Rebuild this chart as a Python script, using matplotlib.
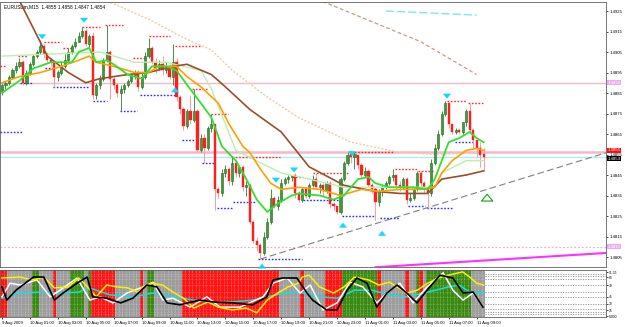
import numpy as np
import matplotlib.pyplot as plt
from matplotlib.transforms import blended_transform_factory

plt.rcParams['font.family'] = ['Liberation Sans', 'DejaVu Sans']

# ---- candles, EURUSDm M15 (bar 0 = 9 Aug 2009 23:00) ----
first_open = 1.4886
closes = [1.4889, 1.4890, 1.4893, 1.4896, 1.4898, 1.4900, 1.4890, 1.4895, 1.4899, 1.4903,
          1.4905, 1.4908, 1.4904, 1.4901, 1.4900, 1.4893, 1.4895, 1.4898, 1.4901, 1.4905,
          1.4908, 1.4910, 1.4913, 1.4915, 1.4909, 1.4913, 1.4884, 1.4889, 1.4892, 1.4901,
          1.4905, 1.4892, 1.4889, 1.4885, 1.4887, 1.4889, 1.4891, 1.4894, 1.4895, 1.4888,
          1.4893, 1.4903, 1.4907, 1.4900, 1.4897, 1.4899, 1.4896, 1.4898, 1.4893, 1.4900,
          1.4883, 1.4877, 1.4869, 1.4876, 1.4872, 1.4876, 1.4857, 1.4863, 1.4858, 1.4868,
          1.4870, 1.4838, 1.4836, 1.4846, 1.4848, 1.4842, 1.4851, 1.4846, 1.4849, 1.4839,
          1.4840, 1.4822, 1.4813, 1.4811, 1.4807, 1.4815, 1.4822, 1.4834, 1.4830, 1.4833,
          1.4841, 1.4843, 1.4844, 1.4845, 1.4836, 1.4833, 1.4838, 1.4835, 1.4840, 1.4843,
          1.4839, 1.4840, 1.4837, 1.4841, 1.4831, 1.4830, 1.4827, 1.4843, 1.4851, 1.4855,
          1.4854, 1.4855, 1.4850, 1.4845, 1.4847, 1.4840, 1.4838, 1.4832, 1.4837, 1.4839,
          1.4841, 1.4844, 1.4845, 1.4840, 1.4839, 1.4843, 1.4833, 1.4834, 1.4838, 1.4846,
          1.4841, 1.4838, 1.4836, 1.4851, 1.4858, 1.4865, 1.4875, 1.4880, 1.4870, 1.4866,
          1.4867, 1.4866, 1.4871, 1.4876, 1.4867, 1.4862, 1.4858, 1.4855, 1.4854]
highs = [1.4890, 1.4891, 1.4894, 1.4897, 1.4900, 1.4902, 1.4901, 1.4896, 1.4900, 1.4904,
         1.4906, 1.4911, 1.4909, 1.4905, 1.4902, 1.4901, 1.4896, 1.4900, 1.4904, 1.4907,
         1.4909, 1.4912, 1.4915, 1.4917, 1.4916, 1.4914, 1.4915, 1.4890, 1.4894, 1.4902,
         1.4918, 1.4906, 1.4893, 1.4890, 1.4889, 1.4890, 1.4892, 1.4895, 1.4896, 1.4896,
         1.4895, 1.4905, 1.4912, 1.4908, 1.4902, 1.4901, 1.4903, 1.4900, 1.4899, 1.4909,
         1.4902, 1.4884, 1.4878, 1.4877, 1.4884, 1.4887, 1.4877, 1.4865, 1.4865, 1.4869,
         1.4875, 1.4870, 1.4839, 1.4848, 1.4850, 1.4849, 1.4854, 1.4852, 1.4850, 1.4850,
         1.4842, 1.4841, 1.4823, 1.4815, 1.4812, 1.4817, 1.4824, 1.4838, 1.4835, 1.4835,
         1.4843, 1.4844, 1.4845, 1.4845, 1.4846, 1.4837, 1.4839, 1.4839, 1.4841, 1.4845,
         1.4846, 1.4841, 1.4841, 1.4842, 1.4842, 1.4832, 1.4830, 1.4844, 1.4852, 1.4856,
         1.4856, 1.4856, 1.4855, 1.4851, 1.4849, 1.4848, 1.4841, 1.4839, 1.4838, 1.4840,
         1.4842, 1.4845, 1.4848, 1.4845, 1.4842, 1.4844, 1.4844, 1.4836, 1.4839, 1.4847,
         1.4847, 1.4842, 1.4839, 1.4853, 1.4860, 1.4867, 1.4876, 1.4881, 1.4880, 1.4870,
         1.4868, 1.4868, 1.4871, 1.4877, 1.4880, 1.4868, 1.4862, 1.4861, 1.4858]
lows = [1.4884, 1.4887, 1.4889, 1.4892, 1.4895, 1.4897, 1.4889, 1.4889, 1.4894, 1.4898,
        1.4902, 1.4904, 1.4902, 1.4900, 1.4898, 1.4888, 1.4891, 1.4894, 1.4897, 1.4900,
        1.4904, 1.4907, 1.4910, 1.4912, 1.4908, 1.4907, 1.4882, 1.4882, 1.4887, 1.4891,
        1.4900, 1.4882, 1.4887, 1.4883, 1.4876, 1.4885, 1.4888, 1.4890, 1.4892, 1.4886,
        1.4887, 1.4892, 1.4902, 1.4899, 1.4895, 1.4896, 1.4894, 1.4895, 1.4892, 1.4889,
        1.4881, 1.4875, 1.4867, 1.4868, 1.4870, 1.4871, 1.4856, 1.4856, 1.4851, 1.4857,
        1.4866, 1.4828, 1.4834, 1.4835, 1.4844, 1.4840, 1.4840, 1.4844, 1.4844, 1.4837,
        1.4835, 1.4821, 1.4812, 1.4808, 1.4804, 1.4806, 1.4814, 1.4821, 1.4829, 1.4828,
        1.4832, 1.4840, 1.4841, 1.4842, 1.4834, 1.4832, 1.4832, 1.4834, 1.4834, 1.4839,
        1.4838, 1.4836, 1.4835, 1.4836, 1.4829, 1.4828, 1.4826, 1.4826, 1.4842, 1.4850,
        1.4851, 1.4848, 1.4848, 1.4843, 1.4844, 1.4839, 1.4836, 1.4823, 1.4830, 1.4835,
        1.4838, 1.4840, 1.4842, 1.4838, 1.4837, 1.4838, 1.4831, 1.4832, 1.4833, 1.4837,
        1.4839, 1.4836, 1.4829, 1.4835, 1.4850, 1.4857, 1.4864, 1.4874, 1.4868, 1.4865,
        1.4865, 1.4865, 1.4865, 1.4869, 1.4866, 1.4858, 1.4854, 1.4849, 1.4847]

# ---- moving averages (bar, price) ----
ma_fast_bar = [0, 5, 9, 14, 17, 20, 22, 25, 27, 30, 32, 36, 40, 43, 47, 50, 53, 57, 60, 63,
               67, 70, 73, 76, 79, 82, 83, 85, 91, 95, 98, 102, 105, 107, 111, 118, 122, 124,
               126, 128, 131, 134, 136, 138]
ma_fast = [1.4885, 1.4891, 1.4897, 1.4900, 1.4900, 1.4900, 1.4905, 1.4907, 1.4900, 1.4901,
           1.4899, 1.4894, 1.4892, 1.4898, 1.4898, 1.4896, 1.4889, 1.4880, 1.4873, 1.4859,
           1.4852, 1.4843, 1.4833, 1.4827, 1.4831, 1.4834, 1.4835, 1.4836, 1.4835, 1.4833,
           1.4835, 1.4843, 1.4844, 1.4841, 1.4839, 1.4839, 1.4838, 1.4843, 1.4852, 1.4861,
           1.4863, 1.4866, 1.4863, 1.4861]
ma_mid_bar = [0, 5, 11, 17, 22, 25, 27, 32, 38, 42, 45, 50, 53, 57, 62, 65, 69, 71, 74, 77,
              80, 85, 91, 97, 103, 108, 114, 120, 124, 126, 129, 133, 136, 138]
ma_mid = [1.4890, 1.4893, 1.4895, 1.4898, 1.4901, 1.4903, 1.4900, 1.4898, 1.4895, 1.4895,
          1.4898, 1.4898, 1.4893, 1.4888, 1.4880, 1.4870, 1.4859, 1.4856, 1.4848, 1.4841,
          1.4838, 1.4839, 1.4838, 1.4835, 1.4838, 1.4837, 1.4838, 1.4838, 1.4839, 1.4846,
          1.4852, 1.4857, 1.4858, 1.4857]
ma_soft_bar = [0, 28, 38, 47, 57, 60, 67, 74, 80, 88, 98, 114, 124, 126, 133, 138]
ma_soft = [1.4903, 1.4905, 1.4900, 1.4900, 1.4896, 1.4887, 1.4857, 1.4851, 1.4846, 1.4843,
           1.4839, 1.4839, 1.4839, 1.4846, 1.4852, 1.4852]
ma_slow_bar = [4, 5, 13, 19, 24, 28, 36, 42, 49, 53, 60, 64, 71, 80, 88, 98, 107, 114, 122,
               126, 133, 138]
ma_slow = [1.4934, 1.4930, 1.4903, 1.4895, 1.4890, 1.4892, 1.4894, 1.4895, 1.4898, 1.4899,
           1.4894, 1.4888, 1.4877, 1.4866, 1.4849, 1.4840, 1.4837, 1.4836, 1.4836, 1.4843,
           1.4845, 1.4847]
ma_long_bar = [28, 30, 42, 52, 60, 66, 76, 85, 100, 114, 124, 138]
ma_long = [1.4932, 1.4930, 1.4921, 1.4912, 1.4906, 1.4896, 1.4883, 1.4873, 1.4861, 1.4856,
           1.4855, 1.4856]
htf_cyan_bar = [110, 136]
htf_cyan = [1.4925, 1.4923]
htf_brown_bar = [90, 120, 136]
htf_brown = [1.4931, 1.4910, 1.4894]

# ---- levels and lines ----
level_top = 1.4890
level_ask = 1.4856
level_bid = 1.4854
level_low = 1.4810
trend_bar = [74, 173.4]
trend_price = [1.4804, 1.4856]
magenta_bar = [107, 173.4]
magenta_price = [1.4800, 1.4807]

# fractal resistance (red) / support (blue) segments: start bar, end bar, price
res_segments = [(-0.5, 1, 1.4898), (4.6, 7.4, 1.4903), (12, 17, 1.4910), (17.5, 20, 1.4907),
                (23, 28, 1.4917), (29.5, 34.7, 1.4918), (37.5, 41, 1.4902), (42, 48, 1.4913),
                (49.5, 56.7, 1.4908), (54.5, 59, 1.4887), (60, 64.8, 1.4875), (66, 79.7, 1.4854),
                (83, 86.3, 1.4844), (89, 99, 1.4846), (100, 112, 1.4856), (112.6, 119, 1.4848),
                (119.2, 123.5, 1.4847), (127.5, 133.2, 1.4881), (133.5, 138, 1.4880)]
sup_segments = [(-0.5, 6, 1.4866), (5.2, 8.6, 1.4890), (12.3, 14.6, 1.4897), (14.6, 24.6, 1.4888),
                (26, 30, 1.4881), (33.8, 38.7, 1.4876), (39.5, 50, 1.4884), (51.6, 55.3, 1.4862),
                (57.3, 61, 1.4851), (61.6, 65.9, 1.4829), (66.2, 72.5, 1.4832), (73.4, 86, 1.4804),
                (86.2, 96.8, 1.4833), (97.4, 106.9, 1.4825), (108.3, 114, 1.4824),
                (116.3, 121.2, 1.4830), (121.8, 129.2, 1.4829), (129.8, 135.5, 1.4861)]
down_arrow_bar = [11.5, 23.5, 78.5, 83.7, 100.3, 127.5]
down_arrow_tip = [1.4910, 1.4918, 1.4840, 1.4845, 1.4853, 1.4881]
up_arrow_bar = [49.6, 74.5, 97.7, 108.9]
up_arrow_tip = [1.4889, 1.4803, 1.4823, 1.4819]
signal_bar = 139
signal_tip = 1.4837

price_ticks = [1.4925, 1.4915, 1.4905, 1.4895, 1.4885, 1.4875, 1.4865, 1.4855,
               1.4845, 1.4835, 1.4825, 1.4815, 1.4805]
time_labels = ['9 Aug 2009', '10 Aug 01:00', '10 Aug 03:00', '10 Aug 05:00', '10 Aug 07:00',
               '10 Aug 09:00', '10 Aug 11:00', '10 Aug 13:00', '10 Aug 15:00', '10 Aug 17:00',
               '10 Aug 19:00', '10 Aug 21:00', '10 Aug 23:00', '11 Aug 01:00', '11 Aug 03:00',
               '11 Aug 05:00', '11 Aug 07:00', '11 Aug 09:00']

# ---- lower window: state runs (first bar, last bar, state) ----
state_runs = [(0, 1, 'r'), (2, 8, 'g'), (9, 10, 'G'), (11, 14, 'g'), (15, 15, 'r'),
              (16, 19, 'g'), (20, 23, 'G'), (24, 24, 'g'), (25, 25, 'G'), (26, 32, 'r'),
              (33, 39, 'g'), (40, 40, 'r'), (41, 41, 'g'), (42, 43, 'G'), (44, 51, 'g'),
              (52, 79, 'r'), (80, 85, 'g'), (86, 86, 'r'), (87, 92, 'g'), (93, 97, 'r'),
              (98, 107, 'G'), (108, 108, 'r'), (109, 115, 'g'), (116, 116, 'r'),
              (117, 118, 'g'), (119, 119, 'G'), (120, 120, 'r'), (121, 121, 'g'),
              (122, 134, 'G'), (135, 138, 'g')]
osc_yellow_bar = [0, 5, 9, 12, 15, 19, 22, 24, 27, 30, 33, 36, 39, 40, 43, 46, 49, 52, 55, 59,
                  62, 66, 70, 73, 76, 79, 82, 85, 86, 88, 91, 95, 98, 101, 105, 108, 111, 116,
                  119, 122, 125, 128, 132, 134, 136, 138]
osc_yellow = [83, 85, 79, 85, 62, 64, 83, 68, 43, 68, 64, 62, 53, 62, 72, 68, 53, 40, 19, 32,
              21, 15, 19, 9, 36, 51, 64, 72, 85, 89, 64, 51, 64, 85, 79, 68, 74, 51, 57, 72,
              83, 89, 96, 85, 72, 68]
osc_cyan_bar = [0, 5, 11, 17, 22, 25, 31, 38, 43, 49, 55, 61, 66, 72, 76, 81, 85, 91, 96, 101,
                106, 111, 116, 122, 128, 131, 134, 138]
osc_cyan = [40, 51, 53, 51, 53, 62, 47, 43, 51, 43, 36, 32, 32, 36, 43, 51, 53, 43, 40, 57,
            57, 47, 43, 53, 64, 68, 53, 51]
osc_black_bar = [0, 1.4, 4, 9, 12, 15, 17.5, 21.5, 24.4, 26, 30, 34, 37.5, 41.5, 44.4, 47.3,
                 51, 56.7, 60.5, 66.2, 71.9, 75.9, 77.7, 80.5, 84.5, 87.4, 89, 93, 96, 98.9,
                 101.7, 104.6, 107.4, 110.3, 113.2, 116, 118.9, 121.8, 125.5, 129.2, 132.1,
                 135, 137, 137.8]
osc_black = [64, 36, 57, 85, 85, 36, 51, 72, 85, 43, 40, 30, 40, 68, 64, 30, 26, 36, 32, 30,
             26, 43, 79, 83, 83, 51, 36, 15, 15, 57, 83, 72, 21, 51, 68, 51, 30, 57, 89, 83,
             51, 53, 30, 21]
osc_white_bar = [0, 2.3, 5.2, 10, 13.8, 16.6, 21.5, 25.2, 28.1, 31.8, 35.8, 40.4, 43.3, 46.1,
                 49, 53.9, 58.7, 62.5, 68.2, 74.8, 77.7, 81.7, 85.4, 88.3, 92, 96, 99.7, 103.4,
                 107.4, 110.3, 114, 117.8, 121.8, 126.4, 129.2, 132.1, 135, 137.8]
osc_white = [43, 72, 68, 79, 43, 57, 83, 36, 43, 30, 51, 64, 74, 36, 40, 21, 43, 21, 21, 43,
             72, 83, 51, 68, 15, 30, 74, 64, 30, 51, 72, 30, 64, 94, 57, 36, 51, 21]
osc_levels = [91, 87, 81, 68, 53, 43, 28, 17, 11, 6]
osc_ticks = [95, 85, 68, 43, 28, 14, 2]
osc_tick_labels = ['91.35', '85', '70', '45', '30', '15', '0.000']


def main():
    W, H = 625, 327
    fig = plt.figure(figsize=(W / 100, H / 100), dpi=100)
    fig.patch.set_facecolor('white')
    ax = fig.add_axes([0, 1 - 267 / H, 606 / W, 265 / H])
    ax2 = fig.add_axes([0, 1 - 317 / H, 606 / W, 47 / H])
    xlim = ((0 - 2) / 3.49, (606 - 2) / 3.49)

    n = len(closes)
    bars = np.arange(n)
    c = np.array(closes)
    o = np.concatenate([[first_open], c[:-1]])
    h = np.maximum(np.array(highs), np.maximum(o, c))
    l = np.minimum(np.array(lows), np.minimum(o, c))
    bull = c >= o

    # horizontal levels
    ax.axhline(level_top, color='#f4b8c8', lw=1.0, zorder=1)
    ax.axhline(level_ask, color='#f4b8c8', lw=1.8, zorder=1)
    ax.axhline(level_bid, color='#a8eef0', lw=0.9, zorder=1)
    ax.axhline(level_low, color='#f0b0c8', lw=0.9, ls=(0, (1.5, 1.5)), zorder=1)

    # higher timeframe / long averages
    ax.plot(ma_long_bar, ma_long, color='#f6c9a0', lw=1.0, ls=(0, (1.5, 1.2)), zorder=2)
    ax.plot(htf_cyan_bar, htf_cyan, color='#7fe6f2', lw=1.0, ls=(0, (6, 2)), zorder=2)
    ax.plot(htf_brown_bar, htf_brown, color='#c89a88', lw=0.9, ls=(0, (3, 2)), zorder=2)
    ax.plot(trend_bar, trend_price, color='#808080', lw=0.8, ls=(0, (6, 3)), zorder=2)
    ax.plot(magenta_bar, magenta_price, color='#ff30ff', lw=1.5, zorder=2)

    # fractal levels
    for x0, x1, p in res_segments:
        ax.hlines(p, x0, x1, colors='#ff2a2a', lw=1.0, linestyles=(0, (1.2, 1.2)), zorder=3)
    for x0, x1, p in sup_segments:
        ax.hlines(p, x0, x1, colors='#2a2aff', lw=1.0, linestyles=(0, (1.2, 1.2)), zorder=3)

    # candles
    wick_col = np.where(bull, '#4a8f4a', '#ff9a9a')
    ax.vlines(bars, l, h, colors=wick_col, lw=0.7, zorder=4)
    body_lo = np.minimum(o, c)
    body_h = np.maximum(np.abs(c - o), 0.00004)
    ax.bar(bars[bull], body_h[bull], bottom=body_lo[bull], width=0.62,
           color='#3f9a3a', edgecolor='#1c6a1c', lw=0.4, zorder=5)
    ax.bar(bars[~bull], body_h[~bull], bottom=body_lo[~bull], width=0.62,
           color='#ff1e1e', edgecolor='#ff1e1e', lw=0.3, zorder=5)

    # averages
    ax.plot(ma_soft_bar, ma_soft, color='#b8f0b0', lw=1.0, zorder=6)
    ax.plot(ma_slow_bar, ma_slow, color='#9a4e2a', lw=1.2, zorder=6)
    ax.plot(ma_mid_bar, ma_mid, color='#ffa000', lw=1.2, zorder=6)
    ax.plot(ma_fast_bar, ma_fast, color='#30e030', lw=1.3, zorder=7)

    # arrows
    aprops = dict(arrowstyle='simple,head_length=0.55,head_width=0.9,tail_width=0.4',
                  fc='#10d8ff', ec='#10d8ff', lw=0.2, mutation_scale=6)
    for b, p in zip(down_arrow_bar, down_arrow_tip):
        ax.annotate('', xy=(b, p), xytext=(0, 6), textcoords='offset points',
                    arrowprops=aprops, zorder=8)
    for b, p in zip(up_arrow_bar, up_arrow_tip):
        ax.annotate('', xy=(b, p), xytext=(0, -6), textcoords='offset points',
                    arrowprops=aprops, zorder=8)
    ax.annotate('', xy=(signal_bar, signal_tip), xytext=(0, -8), textcoords='offset points',
                arrowprops=dict(arrowstyle='simple,head_length=0.55,head_width=0.9,tail_width=0.4',
                                fc='white', ec='#10a010', lw=0.8, mutation_scale=9), zorder=8)

    ax.text(0.006, 0.992, 'EURUSDm,M15  1.4855 1.4858 1.4847 1.4854', transform=ax.transAxes,
            fontsize=3.4, va='top', ha='left', color='black')

    ax.set_xlim(*xlim)
    ax.set_ylim(1.4925 - (267 - 11) / 20500, 1.4925 + 9 / 20500)
    ax.set_xticks([])
    ax.yaxis.tick_right()
    ax.set_yticks(price_ticks)
    ax.set_yticklabels([f'{p:.4f}' for p in price_ticks])
    ax.tick_params(axis='y', labelsize=3.1, length=1.5, pad=0.8, width=0.5)
    for s in ax.spines.values():
        s.set_linewidth(0.6)
        s.set_color('#606060')

    tr = blended_transform_factory(ax.transAxes, ax.transData)
    box = dict(boxstyle='square,pad=0.12', ec='none')
    ax.text(1.003, level_ask, '1.4856', transform=tr, fontsize=3.1, color='white',
            va='bottom', ha='left', bbox=dict(box, fc='#ff1010'), clip_on=False)
    ax.text(1.003, level_bid, '1.4854', transform=tr, fontsize=3.1, color='white',
            va='top', ha='left', bbox=dict(box, fc='black'), clip_on=False)
    ax.text(1.003, level_top, '1.4890', transform=tr, fontsize=3.1, color='white',
            va='center', ha='left', bbox=dict(box, fc='#f0a8f0'), clip_on=False)
    ax.text(1.003, level_low, '1.4810', transform=tr, fontsize=3.1, color='white',
            va='center', ha='left', bbox=dict(box, fc='#f0a8f0'), clip_on=False)

    # lower window
    fill = {'r': '#ff1414', 'g': '#9c9c9c', 'G': '#3a8a12'}
    for a, b, s in state_runs:
        ax2.axvspan(a - 0.5, b + 0.5, color=fill[s], lw=0, zorder=1)
    last = n - 0.5
    ax2.vlines(bars - 0.5, 0, 100, colors='white', lw=0.5, alpha=0.45,
               linestyles=(0, (1, 1)), zorder=2)
    for lv in osc_levels:
        ax2.hlines(lv, -0.5, last, colors='white', lw=0.5, alpha=0.35,
                   linestyles=(0, (1, 1.5)), zorder=2)
        ax2.hlines(lv, last, xlim[1], colors='#909090', lw=0.6,
                   linestyles=(0, (1.5, 1.5)), zorder=2)
    ax2.plot(osc_cyan_bar, osc_cyan, color='#10e0e0', lw=1.1, zorder=3)
    ax2.plot(osc_white_bar, osc_white, color='white', lw=1.1, zorder=3)
    ax2.plot(osc_yellow_bar, osc_yellow, color='#ffee00', lw=1.1, zorder=4)
    ax2.plot(osc_black_bar, osc_black, color='black', lw=1.2, zorder=4)

    ax2.set_xlim(*xlim)
    ax2.set_ylim(0, 100)
    ax2.yaxis.tick_right()
    ax2.set_yticks(osc_ticks)
    ax2.set_yticklabels(osc_tick_labels)
    ax2.set_xticks(np.arange(len(time_labels)) * 8)
    ax2.set_xticklabels(time_labels, ha='left')
    ax2.tick_params(axis='y', labelsize=2.4, length=1.2, pad=0.6, width=0.5)
    ax2.tick_params(axis='x', labelsize=3.0, length=1.5, pad=1.2, width=0.5)
    for s in ax2.spines.values():
        s.set_linewidth(0.6)
        s.set_color('#606060')

    fig.savefig('out.png', dpi=100)


if __name__ == '__main__':
    main()
